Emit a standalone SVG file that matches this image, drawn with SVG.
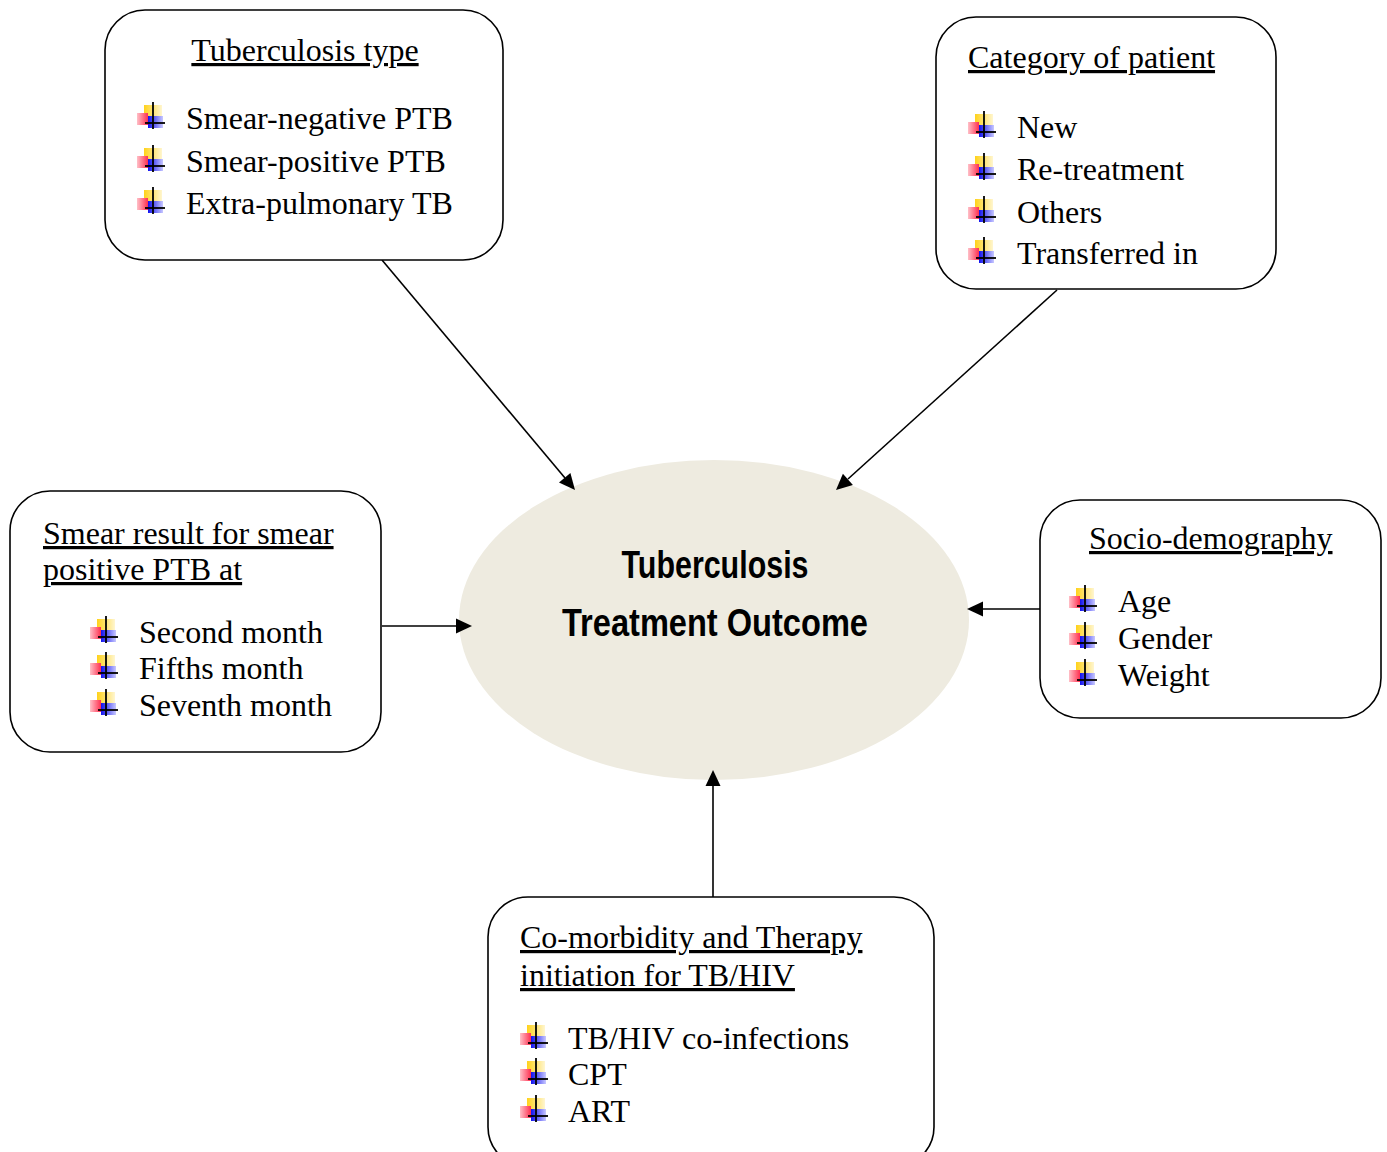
<svg xmlns="http://www.w3.org/2000/svg" xmlns:xlink="http://www.w3.org/1999/xlink" width="1387" height="1152" viewBox="0 0 1387 1152">
<style>
.box{fill:#fff;stroke:#000;stroke-width:1.6}
.t{font-family:"Liberation Serif","Times New Roman",serif;font-size:32px;fill:#000}
.h{text-decoration:underline}
.c{font-family:"Liberation Sans",Arial,sans-serif;font-weight:bold;font-size:38px;fill:#000}
.ln{stroke:#000;stroke-width:1.6;fill:none}
.ah{fill:#000}
</style>
<defs>
<linearGradient id="gy" x1="0" x2="1" y1="0" y2="0"><stop offset="0" stop-color="#FFD21A"/><stop offset="1" stop-color="#FFF6D0"/></linearGradient>
<linearGradient id="gr" x1="0" x2="1" y1="0" y2="0"><stop offset="0" stop-color="#FFC0C8"/><stop offset="1" stop-color="#FF3050"/></linearGradient>
<linearGradient id="gb" x1="0" x2="1" y1="0" y2="0"><stop offset="0" stop-color="#1010F0"/><stop offset="1" stop-color="#C8C8FF"/></linearGradient>
<g id="bul">
<rect x="7" y="3" width="18" height="15" fill="url(#gy)"/>
<rect x="0" y="11" width="11" height="12" fill="url(#gr)"/>
<rect x="11" y="14" width="15" height="12" fill="url(#gb)"/>
<line x1="16" y1="0" x2="16" y2="27" stroke="#000" stroke-width="1.8"/>
<line x1="8" y1="21" x2="28" y2="21" stroke="#000" stroke-width="1.8"/>
</g>
</defs>

<g id="outcome">
<ellipse cx="714" cy="620" rx="255" ry="160" fill="#EEEBE0"/>
<text class="c" x="715" y="578" text-anchor="middle" textLength="187" lengthAdjust="spacingAndGlyphs">Tuberculosis</text>
<text class="c" x="715" y="636" text-anchor="middle" textLength="306" lengthAdjust="spacingAndGlyphs">Treatment Outcome</text>
</g>

<g id="connectors">
<line class="ln" x1="382" y1="260" x2="565" y2="478"/>
<polygon class="ah" points="575,490 559,482.5 570.4,472.9"/>
<line class="ln" x1="1057" y1="290" x2="848" y2="479"/>
<polygon class="ah" points="836,490 842.9,473.7 852.9,484.9"/>
<line class="ln" x1="382" y1="626" x2="457" y2="626"/>
<polygon class="ah" points="472,626 456,618.5 456,633.5"/>
<line class="ln" x1="1040" y1="609" x2="982" y2="609"/>
<polygon class="ah" points="967,609 983,601.5 983,616.5"/>
<line class="ln" x1="713" y1="897" x2="713" y2="785"/>
<polygon class="ah" points="713,770 705.5,786 720.5,786"/>
</g>

<g id="tb-type">
<rect class="box" x="105" y="10" width="398" height="250" rx="40"/>
<text class="t h" x="305" y="61" text-anchor="middle">Tuberculosis type</text>
<use xlink:href="#bul" x="137" y="102"/>
<text class="t" x="186" y="129">Smear-negative PTB</text>
<use xlink:href="#bul" x="137" y="145"/>
<text class="t" x="186" y="172">Smear-positive PTB</text>
<use xlink:href="#bul" x="137" y="187"/>
<text class="t" x="186" y="214">Extra-pulmonary TB</text>
</g>

<g id="category">
<rect class="box" x="936" y="17" width="340" height="272" rx="40"/>
<text class="t h" x="968" y="68">Category of patient</text>
<use xlink:href="#bul" x="968" y="111"/>
<text class="t" x="1017" y="138">New</text>
<use xlink:href="#bul" x="968" y="153"/>
<text class="t" x="1017" y="180">Re-treatment</text>
<use xlink:href="#bul" x="968" y="196"/>
<text class="t" x="1017" y="223">Others</text>
<use xlink:href="#bul" x="968" y="237"/>
<text class="t" x="1017" y="264">Transferred in</text>
</g>

<g id="smear">
<rect class="box" x="10" y="491" width="371" height="261" rx="40"/>
<text class="t h" x="43" y="544">Smear result for smear</text>
<text class="t h" x="43" y="580">positive PTB at</text>
<use xlink:href="#bul" x="90" y="616"/>
<text class="t" x="139" y="643">Second month</text>
<use xlink:href="#bul" x="90" y="652"/>
<text class="t" x="139" y="679">Fifths month</text>
<use xlink:href="#bul" x="90" y="689"/>
<text class="t" x="139" y="716">Seventh month</text>
</g>

<g id="socio">
<rect class="box" x="1040" y="500" width="341" height="218" rx="40"/>
<text class="t h" x="1089" y="549">Socio-demography</text>
<use xlink:href="#bul" x="1069" y="585"/>
<text class="t" x="1118" y="612">Age</text>
<use xlink:href="#bul" x="1069" y="622"/>
<text class="t" x="1118" y="649">Gender</text>
<use xlink:href="#bul" x="1069" y="659"/>
<text class="t" x="1118" y="686">Weight</text>
</g>

<g id="comorbidity">
<rect class="box" x="488" y="897" width="446" height="270" rx="40"/>
<text class="t h" x="520" y="948">Co-morbidity and Therapy</text>
<text class="t h" x="520" y="986">initiation for TB/HIV</text>
<use xlink:href="#bul" x="520" y="1022"/>
<text class="t" x="568" y="1049">TB/HIV co-infections</text>
<use xlink:href="#bul" x="520" y="1058"/>
<text class="t" x="568" y="1085">CPT</text>
<use xlink:href="#bul" x="520" y="1095"/>
<text class="t" x="568" y="1122">ART</text>
</g>
</svg>
